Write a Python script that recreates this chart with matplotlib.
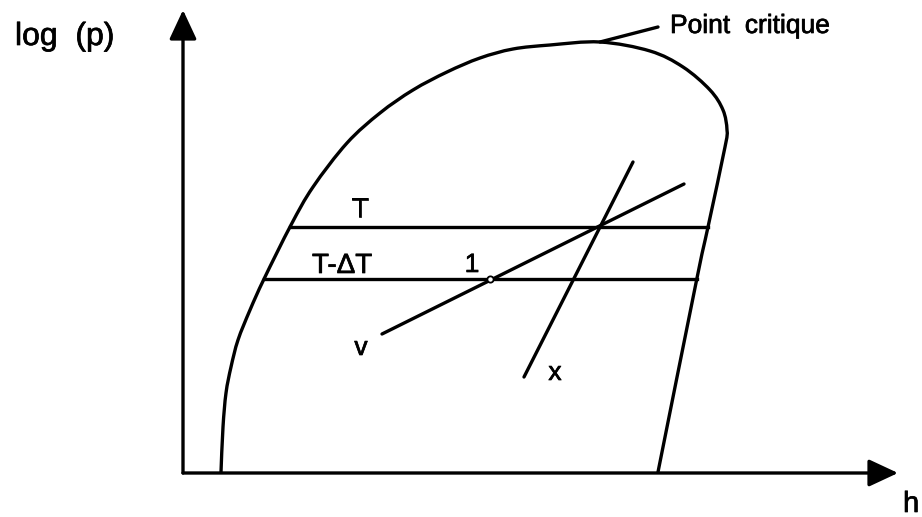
"""
Diagramme log(p)-h : dome de saturation, isothermes T et T-dT,
droites de volume massique (v) et de titre (x) passant par le point 1.
"""
import matplotlib.pyplot as plt
import matplotlib.patheffects as pe
from matplotlib.path import Path
from matplotlib.patches import PathPatch

# Dome de saturation (liquide sature a gauche, vapeur saturee a droite)
dome_h = [38, 40, 43, 48, 55, 67, 81, 108, 130, 164, 197, 230, 264, 297,
          330, 367, 417, 467, 500, 527, 540, 544, 542, 525, 514, 475]
dome_logp = [1, 46, 80, 106, 133, 163, 194, 248, 286, 330, 360, 383, 401,
             415, 424, 428, 431, 422, 406, 383, 363, 343, 326, 246, 195, 1]

# Isothermes (paliers dans le dome)
iso_labels = ['T', 'T-\u0394T']
iso_logp = [246, 194]
iso_h_start = [107, 81]
iso_h_end = [525, 514]

# Droite v (volume massique constant) et droite x (titre constant)
v_h = [199, 501]
v_logp = [139, 289]
x_h = [341, 450]
x_logp = [96, 311]

# Point 1 sur l'isotherme T-dT
pt1_h = 307
pt1_logp = 194

# Point critique (sommet du dome) et extremite de la ligne de rappel
crit_h = [417, 475]
crit_logp = [431, 446]

LW = 2.4
FONT = 'Liberation Sans'


def smooth_path(xs, ys):
    """Courbe de Catmull-Rom passant par les points, en segments de Bezier."""
    pts = list(zip(xs, ys))
    verts = [pts[0]]
    codes = [Path.MOVETO]
    n = len(pts)
    for i in range(n - 1):
        p0 = pts[max(i - 1, 0)]
        p1 = pts[i]
        p2 = pts[i + 1]
        p3 = pts[min(i + 2, n - 1)]
        c1 = (p1[0] + (p2[0] - p0[0]) / 6, p1[1] + (p2[1] - p0[1]) / 6)
        c2 = (p2[0] - (p3[0] - p1[0]) / 6, p2[1] - (p3[1] - p1[1]) / 6)
        verts += [c1, c2, p2]
        codes += [Path.CURVE4] * 3
    return Path(verts, codes)


fig = plt.figure(figsize=(9.22, 5.17), dpi=100)
ax = fig.add_axes([0, 0, 1, 1])
ax.set_xlim(-183, 739)
ax.set_ylim(-44, 473)
ax.axis('off')

# Axes avec fleches
arrow = dict(arrowstyle='-|>,head_length=0.9,head_width=0.42',
             mutation_scale=20, lw=LW, color='black',
             shrinkA=0, shrinkB=0)
ax.annotate('', xy=(0, 463), xytext=(0, 0), arrowprops=arrow)
ax.annotate('', xy=(715, 0), xytext=(0, 0), arrowprops=arrow)

# Dome
ax.add_patch(PathPatch(smooth_path(dome_h, dome_logp), fill=False,
                       edgecolor='black', lw=LW, joinstyle='round',
                       capstyle='round'))

# Isothermes
for lp, h0, h1 in zip(iso_logp, iso_h_start, iso_h_end):
    ax.plot([h0, h1], [lp, lp], color='black', lw=LW)

# Droites v et x
ax.plot(v_h, v_logp, color='black', lw=LW, solid_capstyle='round')
ax.plot(x_h, x_logp, color='black', lw=LW, solid_capstyle='round')

# Point 1
ax.plot(pt1_h, pt1_logp, 'o', ms=4.5, mfc='white', mec='black', mew=1.3)

# Ligne de rappel du point critique
ax.plot(crit_h, crit_logp, color='black', lw=LW, solid_capstyle='round')

# Textes (trait un peu epaissi)
thick = [pe.withStroke(linewidth=0.5, foreground='black')]
txt = dict(family=FONT, color='black', va='baseline', path_effects=thick)
ax.text(-168, 428, 'log  (p)', fontsize=23, ha='left', **txt)
ax.text(720, -39, 'h', fontsize=21, ha='left', **txt)
ax.text(487, 440, 'Point  critique', fontsize=19, ha='left', **txt)
ax.text(177, 256, iso_labels[0], fontsize=20, ha='center', **txt)
ax.text(129, 200, iso_labels[1], fontsize=20, ha='left', **txt)
ax.text(289, 201, '1', fontsize=19, ha='center', **txt)
ax.text(178, 118, 'v', fontsize=19, ha='center', **txt)
ax.text(372, 93, 'x', fontsize=19, ha='center', **txt)

fig.savefig('out.png', dpi=100, facecolor='white')
